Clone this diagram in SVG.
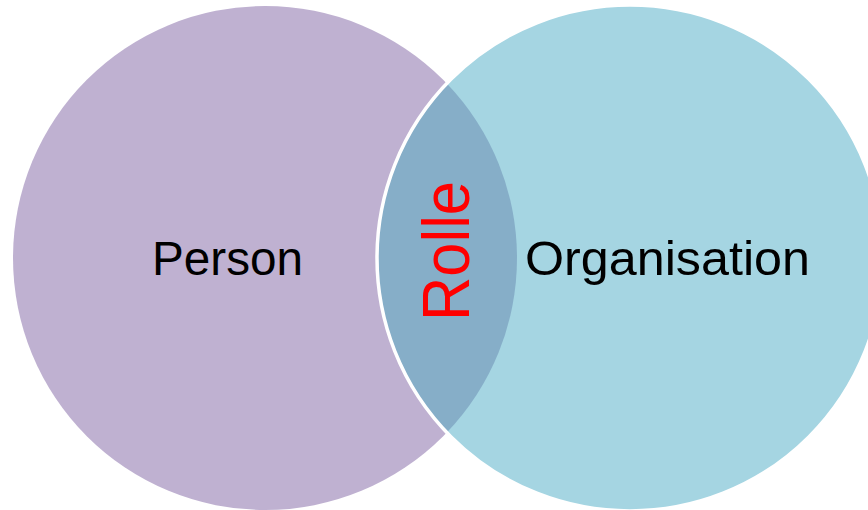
<svg xmlns="http://www.w3.org/2000/svg" width="868" height="510" viewBox="0 0 868 510">
<style>
.lbl{font-family:"Liberation Sans","Open Sans",Arial,sans-serif;font-size:48px;fill:#000}
.role{font-family:"Liberation Sans","Open Sans",Arial,sans-serif;font-size:66px;fill:#FF0000}
</style>
<rect width="868" height="510" fill="#FFFFFF"/>
<g id="person">
<circle cx="265" cy="258" r="252" fill="#BFB1D1"/>
</g>
<g id="organisation">
<circle cx="630" cy="258" r="253" fill="#A5D5E2"/>
</g>
<g id="rolle">
<path d="M446.8 83.5 A253 253 0 0 0 446.8 432.5 A252 252 0 0 0 446.8 83.5 Z" fill="#86AEC8"/>
<circle cx="630" cy="258" r="253" fill="none" stroke="#FFFFFF" stroke-width="3.5"/>
</g>
<g id="labels">
<text class="lbl" x="152" y="275" textLength="151" lengthAdjust="spacingAndGlyphs">Person</text>
<text class="lbl" x="525" y="275" textLength="285" lengthAdjust="spacingAndGlyphs">Organisation</text>
<text class="role" transform="translate(469 321) rotate(-90)" x="0" y="0" textLength="140" lengthAdjust="spacingAndGlyphs">Rolle</text>
</g>
<g id="connectors"></g>
</svg>
